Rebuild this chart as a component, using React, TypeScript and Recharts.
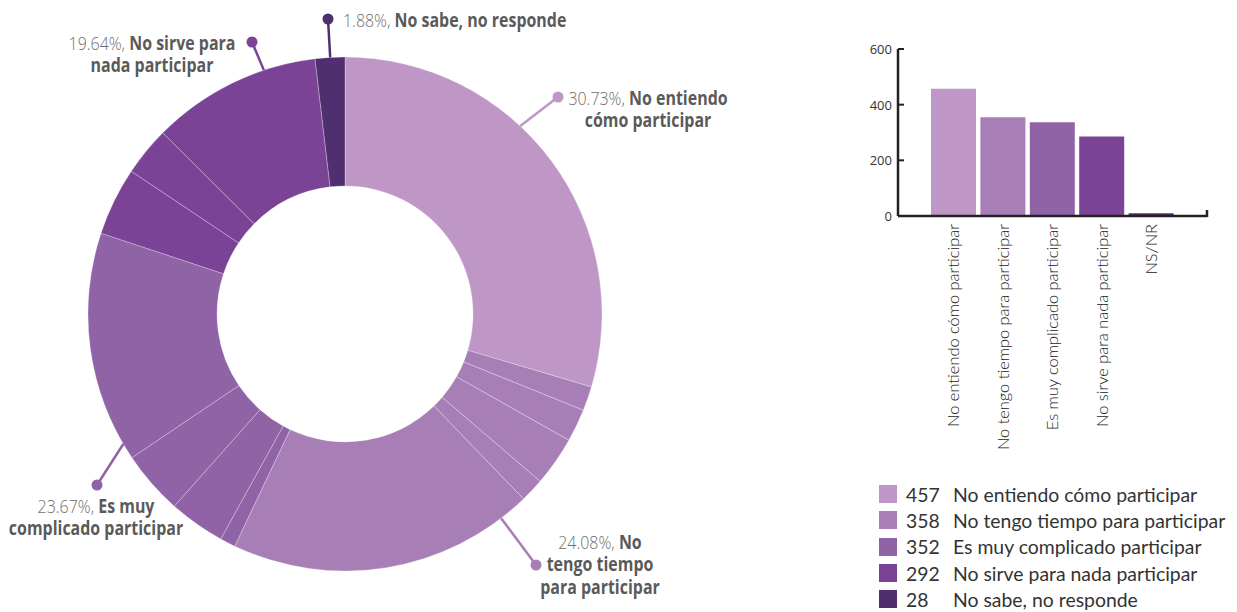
import React from 'react';
import * as R from 'recharts';
import { PieChart, Pie, Cell, BarChart, Bar, XAxis, YAxis } from 'recharts';

// ---------- data ----------
const categories = [
  'No entiendo cómo participar',
  'No tengo tiempo para participar',
  'Es muy complicado participar',
  'No sirve para nada participar',
  'No sabe, no responde',
];
const legendValues = [457, 358, 352, 292, 28];
const percentLabels = ['30.73%', '24.08%', '23.67%', '19.64%', '1.88%'];

// donut sub-slices (share of the ring, %) and the category they belong to
const subCategory = [0, 1, 1, 1, 1, 1, 2, 2, 2, 2, 3, 3, 3, 4];
const subValues = [29.58, 1.53, 2.06, 3.11, 1.5, 19.28, 0.97, 3.53, 4.0, 14.53, 4.28, 3.08, 10.69, 1.86];

const barLabels = [
  'No entiendo cómo participar',
  'No tengo tiempo para participar',
  'Es muy complicado participar',
  'No sirve para nada participar',
  'NS/NR',
];
const barValues = [457, 355, 337, 286, 10];
const yTicks = [0, 200, 400, 600];

// ---------- styles ----------
const colors = ['#bf97c6', '#a77fb6', '#9062a6', '#7a4396', '#502f70'];
const labelFont = "'Open Sans', sans-serif";
const uiFont = "Lato, 'Open Sans', sans-serif";

// label layout per category: anchor angle (deg clockwise from top), dot offset, text offset, lines [light, bold]
const labelLayout = [
  { angle: 43, dot: [213, -217], text: [303, -216], anchor: 'middle', lines: [[percentLabels[0] + ', ', 'No entiendo'], ['', 'cómo participar']] },
  { angle: 142.6, dot: [191, 251], text: [255, 228], anchor: 'middle', lines: [[percentLabels[1] + ', ', 'No'], ['', 'tengo tiempo'], ['', 'para participar']] },
  { angle: 239.6, dot: [-248, 171], text: [-249, 192], anchor: 'middle', lines: [[percentLabels[2] + ', ', 'Es muy'], ['', 'complicado participar']] },
  { angle: 341.6, dot: [-93, -272], text: [-193, -271], anchor: 'middle', lines: [[percentLabels[3] + ', ', 'No sirve para'], ['', 'nada participar']] },
  { angle: 356.7, dot: [-17, -295], text: [-2, -294], anchor: 'start', lines: [[percentLabels[4] + ', ', 'No sabe, no responde']] },
];

const pieData = subValues.map((v, i) => ({ name: categories[subCategory[i]], value: v, cat: subCategory[i] }));
const barData = barLabels.map((n, i) => ({ name: n, value: barValues[i] }));

const firstIndexOfCat = (cat: number) => subCategory.indexOf(cat);

const renderPieLabel = (props: any) => {
  const { cx, cy, index, outerRadius } = props;
  const cat = subCategory[index];
  if (firstIndexOfCat(cat) !== index) return null;
  const L = labelLayout[cat];
  const a = (L.angle * Math.PI) / 180;
  const ax = cx + outerRadius * Math.sin(a);
  const ay = cy - outerRadius * Math.cos(a);
  const dx = cx + L.dot[0];
  const dy = cy + L.dot[1];
  const col = colors[cat];
  return (
    <g key={`lbl-${cat}`}>
      <line x1={ax} y1={ay} x2={dx} y2={dy} stroke={col} strokeWidth={2.5} />
      <circle cx={dx} cy={dy} r={5.5} fill={col} />
      <g transform={`translate(${cx + L.text[0]},${cy + L.text[1]}) scale(0.84,1)`}>
        <text x={0} y={0} textAnchor={L.anchor as any} fontFamily={labelFont} fontSize={19}>
          {L.lines.map((ln, k) => (
            <tspan key={k} x={0} dy={k === 0 ? 6.8 : 22.5}>
              {ln[0] ? <tspan fill="#6e6e6e" fontWeight={300}>{ln[0]}</tspan> : null}
              <tspan fill="#5a5a5a" fontWeight="bold">{ln[1]}</tspan>
            </tspan>
          ))}
        </text>
      </g>
    </g>
  );
};

const YTick = (props: any) => {
  const { x, y, payload } = props;
  return (
    <g>
      <text x={x} y={y} textAnchor="end" dominantBaseline="central" fontFamily="'Open Sans', sans-serif" fontSize={13} fill="#333">
        {payload.value}
      </text>
      <line x1={x + 6} y1={y} x2={x + 12} y2={y} stroke="#222" strokeWidth={2} />
    </g>
  );
};

const XTick = (props: any) => {
  const { x, y, payload } = props;
  return (
    <g transform={`translate(${x},${y})`}>
      <text transform="rotate(-90)" textAnchor="end" dy="0.35em" fontFamily={uiFont} fontWeight={300} fontSize={16.4} fill="#222">
        {payload.value}
      </text>
    </g>
  );
};

const EndTick = () => {
  const hook = (R as any).usePlotArea || (R as any).useOffset;
  const area = hook ? hook() : null;
  if (!area) return null;
  const right = area.x !== undefined ? area.x + area.width : null;
  const bottom = area.y !== undefined ? area.y + area.height : null;
  if (right == null || bottom == null) return null;
  return <line x1={right} y1={bottom + 1} x2={right} y2={bottom - 6} stroke="#222" strokeWidth={2.5} />;
};

export default function App() {
  return (
    <div style={{ position: 'absolute', left: 0, top: 0, width: 1237, height: 612, background: '#fff', overflow: 'hidden' }}>
      <div style={{ position: 'absolute', left: 0, top: 0 }}>
        <PieChart width={760} height={612} margin={{ top: 0, right: 0, bottom: 0, left: 0 }}>
          <Pie
            data={pieData}
            dataKey="value"
            cx={345}
            cy={314}
            innerRadius={128}
            outerRadius={257}
            startAngle={90}
            endAngle={-270}
            stroke="rgba(255,255,255,0.35)"
            strokeWidth={0.8}
            label={renderPieLabel}
            labelLine={false}
            isAnimationActive={false}
          >
            {pieData.map((d, i) => (
              <Cell key={i} fill={colors[d.cat]} />
            ))}
          </Pie>
        </PieChart>
      </div>
      <div style={{ position: 'absolute', left: 840, top: 0 }}>
        <BarChart width={397} height={470} data={barData} margin={{ top: 49, right: 30, left: 0, bottom: 0 }}>
          <YAxis
            domain={[0, 600]}
            ticks={yTicks}
            width={58}
            tickLine={false}
            tickSize={0}
            tickMargin={6}
            axisLine={{ stroke: '#222', strokeWidth: 2.5 }}
            tick={<YTick />}
            interval={0}
          />
          <XAxis
            dataKey="name"
            interval={0}
            height={254}
            tickLine={false}
            tickSize={0}
            tickMargin={8}
            padding={{ left: 31, right: 31 }}
            axisLine={{ stroke: '#222', strokeWidth: 2.5 }}
            tick={<XTick />}
          />
          <Bar dataKey="value" barSize={45} isAnimationActive={false}>
            {barData.map((d, i) => (
              <Cell key={i} fill={colors[i]} />
            ))}
          </Bar>
          <EndTick />
        </BarChart>
      </div>
      <div style={{ position: 'absolute', left: 879, top: 481, fontFamily: uiFont, fontSize: 19.4, color: '#333' }}>
        {categories.map((c, i) => (
          <div key={i} style={{ display: 'flex', alignItems: 'center', height: 26.3 }}>
            <div style={{ width: 18, height: 18, background: colors[i], marginRight: 9 }} />
            <div style={{ width: 47 }}>{legendValues[i]}</div>
            <div>{c}</div>
          </div>
        ))}
      </div>
    </div>
  );
}
